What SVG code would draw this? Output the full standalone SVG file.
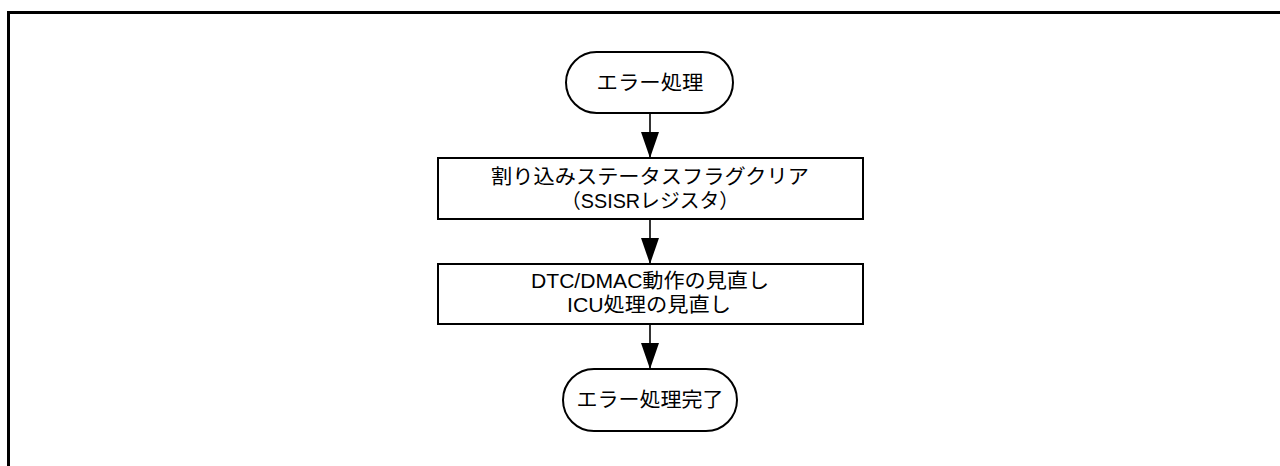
<svg xmlns="http://www.w3.org/2000/svg" width="1280" height="466" viewBox="0 0 1280 466">
<style>
.shape{fill:#fff;stroke:#000;stroke-width:2}
.edge{stroke:#000;stroke-width:1.6;fill:none}
.t{font-family:"Liberation Sans","Noto Sans CJK JP",sans-serif;font-size:20px;fill:#000;text-anchor:middle}
</style>
<defs>
<marker id="ah" markerUnits="userSpaceOnUse" markerWidth="26" markerHeight="18" refX="26" refY="9" orient="auto" viewBox="0 0 26 18">
<path d="M0,0 L26,9 L0,18 Z" fill="#000"/>
</marker>
</defs>
<rect width="1280" height="466" fill="#fff"/>
<g id="frame">
<path d="M8.5,466 V12.5 H1280" fill="none" stroke="#000" stroke-width="3"/>
</g>
<g id="connectors">
<line class="edge" x1="650" y1="113" x2="650" y2="158" marker-end="url(#ah)"/>
<line class="edge" x1="650" y1="219" x2="650" y2="264" marker-end="url(#ah)"/>
<line class="edge" x1="650" y1="324" x2="650" y2="369" marker-end="url(#ah)"/>
</g>
<g id="start">
<rect class="shape" x="566" y="52" width="167" height="61" rx="30.5"/>
<text class="t" x="650" y="90" textLength="107" lengthAdjust="spacingAndGlyphs">エラー処理</text>
</g>
<g id="clear">
<rect class="shape" x="438" y="158" width="425" height="61"/>
<text class="t" x="650" y="184" textLength="318" lengthAdjust="spacingAndGlyphs">割り込みステータスフラグクリア</text>
<text class="t" x="650" y="208" textLength="178" lengthAdjust="spacingAndGlyphs">（SSISRレジスタ）</text>
</g>
<g id="review">
<rect class="shape" x="438" y="264" width="425" height="60"/>
<text class="t" x="650" y="288" textLength="238" lengthAdjust="spacingAndGlyphs">DTC/DMAC動作の見直し</text>
<text class="t" x="649" y="312" textLength="164" lengthAdjust="spacingAndGlyphs">ICU処理の見直し</text>
</g>
<g id="end">
<rect class="shape" x="563" y="369" width="174" height="62" rx="31"/>
<text class="t" x="650" y="407" textLength="147" lengthAdjust="spacingAndGlyphs">エラー処理完了</text>
</g>
</svg>
